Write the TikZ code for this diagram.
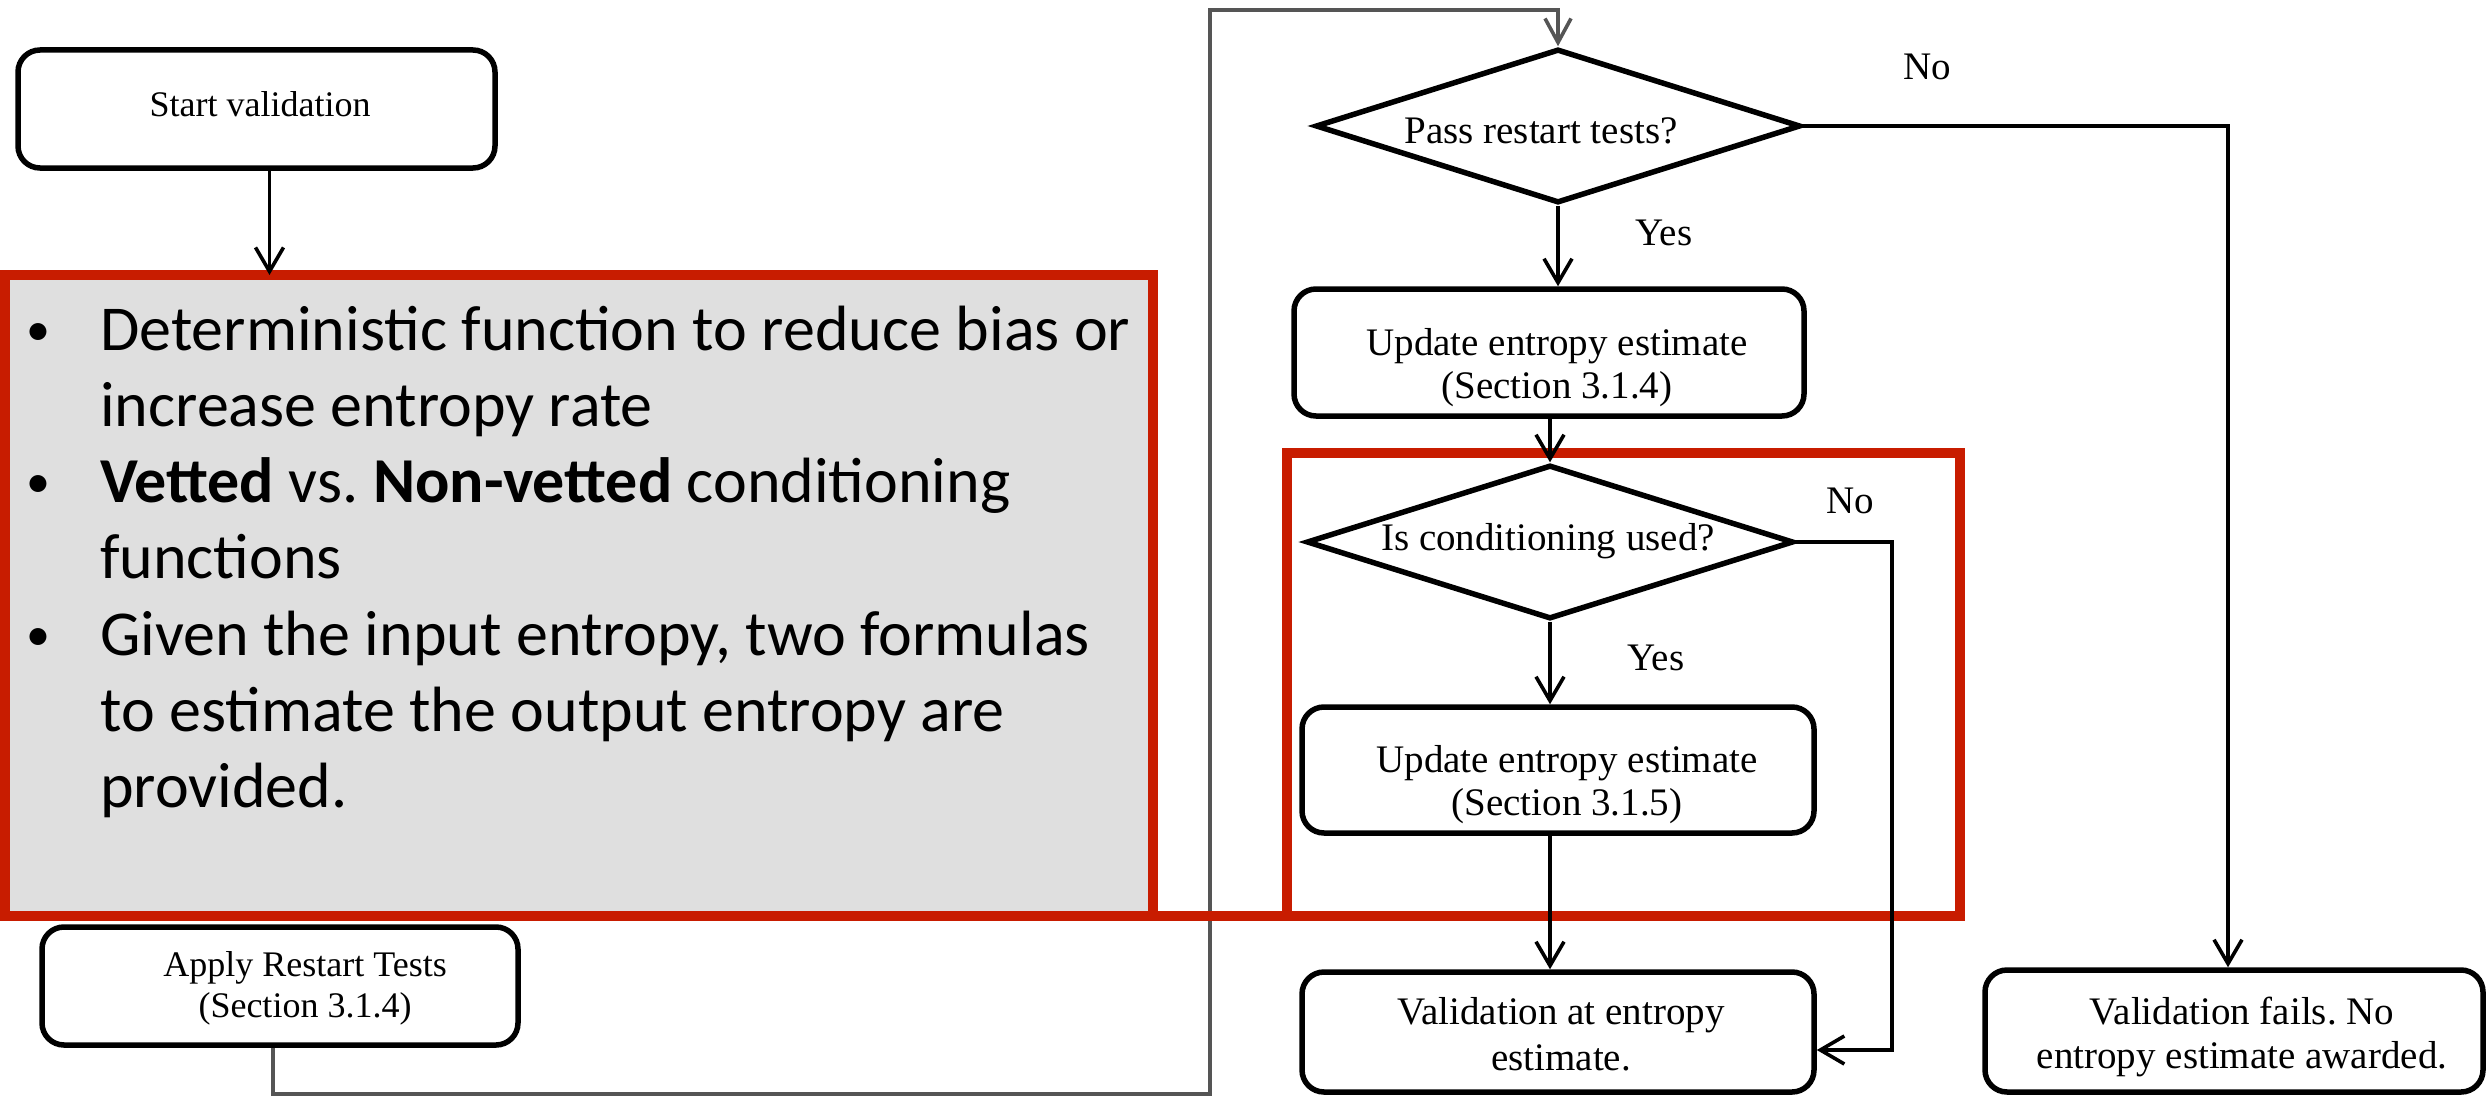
\documentclass[tikz,border=0pt]{standalone}
\usepackage{fontspec}
\setmainfont{Liberation Serif}
\newfontfamily\calibfont{Carlito}
\usetikzlibrary{shapes.geometric,arrows.meta,calc}
\definecolor{hlred}{RGB}{200,28,0}
\definecolor{notegray}{RGB}{223,223,223}
\definecolor{loopgray}{RGB}{85,85,85}
\frenchspacing
\newcommand{\flowlines}[2]{\begin{tabular}[t]{@{}c@{}}#1\\#2\end{tabular}}
\newcommand{\notebullet}{\raisebox{5pt}{\fontsize{48}{48}\selectfont •}}
\begin{document}
\begin{tikzpicture}[x=1pt,y=-1pt,
  flowbox/.style={draw, line width=5.5pt, rounded corners=22pt, inner sep=0pt},
  decision/.style={draw, diamond, line width=5.5pt, inner sep=0pt},
  link/.style={line width=3.6pt, -{Straight Barb[length=24pt,width=28pt]}},
  loopline/.style={draw=loopgray, line width=3.6pt, -{Straight Barb[length=24pt,width=26pt]}},
  flowtext/.style={font=\fontsize{39}{43}\selectfont, inner sep=0pt, anchor=base},
  smalltext/.style={font=\fontsize{36}{41}\selectfont, inner sep=0pt, anchor=base},
  notebox/.style={draw=hlred, fill=notegray, line width=10pt, inner sep=0pt, outer sep=0pt},
  hlframe/.style={draw=hlred, line width=10pt, inner sep=0pt, outer sep=0pt}]
\useasboundingbox (0,0) rectangle (2488,1097);

% highlighted region on the right
\node[hlframe, minimum width=673pt, minimum height=463pt] (frame) at (1623.5,684.5) {};

% flowchart boxes
\node[flowbox, minimum width=477pt, minimum height=118pt] (start) at (256.5,109) {};
\node[smalltext] (startt) at (260,117) {Start validation};

\node[flowbox, minimum width=476pt, minimum height=118pt] (apply) at (280,986) {};
\node[smalltext] (applyt) at (305,976) {\fontsize{36}{41}\selectfont\flowlines{Apply Restart Tests}{(Section 3.1.4)}};

\node[decision, minimum width=485pt, minimum height=154pt] (d1) at (1558,126) {};
\node[flowtext] (d1t) at (1541,143) {Pass restart tests?};

\node[flowbox, minimum width=510pt, minimum height=127pt] (u1) at (1549,352.5) {};
\node[flowtext] (u1t) at (1557,355) {\fontsize{39}{43}\selectfont\flowlines{Update entropy estimate}{(Section 3.1.4)}};

\node[decision, minimum width=487pt, minimum height=154pt] (d2) at (1550,542) {};
\node[flowtext] (d2t) at (1548,550) {Is conditioning used?};

\node[flowbox, minimum width=512pt, minimum height=126pt] (u2) at (1558,770) {};
\node[flowtext] (u2t) at (1567,772) {\fontsize{39}{43}\selectfont\flowlines{Update entropy estimate}{(Section 3.1.5)}};

\node[flowbox, minimum width=512pt, minimum height=120pt] (val) at (1558,1032) {};
\node[flowtext] (valt) at (1561,1024) {\fontsize{39}{46}\selectfont\flowlines{Validation at entropy}{estimate.}};

\node[flowbox, minimum width=498pt, minimum height=122pt] (fail) at (2234,1031) {};
\node[flowtext] (failt) at (2242,1024) {\fontsize{39}{44}\selectfont\flowlines{Validation fails. No}{entropy estimate awarded.}};

% branch labels
\node[flowtext] (no1) at (1927,80) {No};
\node[flowtext] (yes1) at (1664,245) {Yes};
\node[flowtext] (no2) at (1850,513) {No};
\node[flowtext] (yes2) at (1656,670) {Yes};

% connectors
\draw[loopline] ([xshift=-7pt]apply.south) -- ++(0,46) -| (1210,10) -| (d1.north);
\draw[link] (d1.south) -- (d1.south |- u1.north);
\draw[link] (d1.east) -| ([xshift=-6pt]fail.north);
\draw[link] (u1.south -| d2.north) -- (d2.north);
\draw[link] (d2.south) -- (d2.south |- u2.north);
\draw[link] (u2.south -| d2.south) -- (d2.south |- val.north);
\draw[link] (d2.east) -- ++(96,0) |- ([yshift=-18pt]val.east);

% grey note over the left part
\node[notebox, minimum width=1148pt, minimum height=641pt] (note) at (579,595.5) {};
\draw[link] ([xshift=13pt]start.south) -- ([xshift=13pt]start.south |- note.north);
\draw[hlred, line width=10pt, line cap=rect] (note.south east) -- (frame.south west);
\node[anchor=base west, inner sep=0pt, font=\calibfont\fontsize{64}{76.3}\selectfont] (notetext) at (26,350)
 {\begin{tabular}[t]{@{}p{74pt}@{}l@{}}
  \notebullet & Deterministic function to reduce bias or\\
    & increase entropy rate\\
  \notebullet & \textbf{Vetted} vs. \textbf{Non-vetted} conditioning\\
    & functions\\
  \notebullet & Given the input entropy, two formulas\\
    & to estimate the output entropy are\\
    & provided.
  \end{tabular}};
\end{tikzpicture}
\end{document}
